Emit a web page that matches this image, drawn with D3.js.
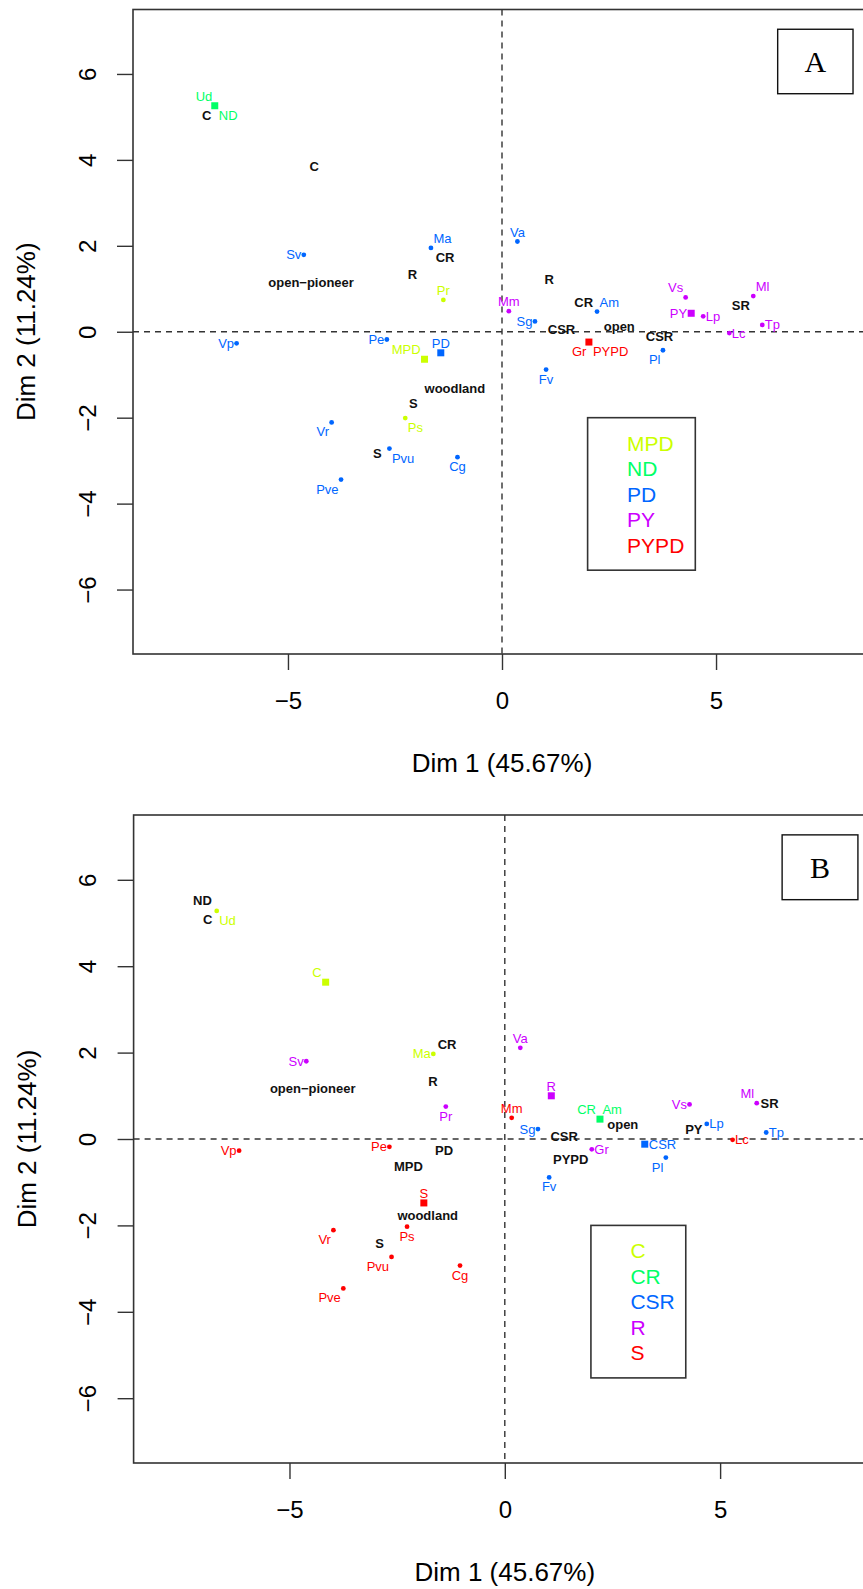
<!DOCTYPE html>
<html>
<head>
<meta charset="utf-8">
<script src="https://cdn.jsdelivr.net/npm/d3@7"></script>
<style>
body { margin: 0; background: #fff; }
svg { display: block; font-family: "Liberation Sans", Arial, sans-serif; }
</style>
</head>
<body>
<svg id="chart"></svg>
<script>

// R rainbow(5), one colour per group in legend order
var rainbow5 = ["#CCFF00", "#00FF66", "#0066FF", "#CC00FF", "#FF0000"]

var groupsA = ["MPD", "ND", "PD", "PY", "PYPD"]
var groupsB = ["C", "CR", "CSR", "R", "S"]

var xTicks = [-5, 0, 5]
var yTicks = [-6, -4, -2, 0, 2, 4, 6]
var xTitle = "Dim 1 (45.67%)"
var yTitle = "Dim 2 (11.24%)"

// species: name, dim1, dim2, group, side of the label
var speciesA = [
  ["Ud", -6.71, 5.26, "ND", "nw"],
  ["Sv", -4.63, 1.79, "PD", "w"],
  ["Ma", -1.66, 1.95, "PD", "ne"],
  ["Pr", -1.37, 0.74, "MPD", "n"],
  ["Vp", -6.20, -0.27, "PD", "w"],
  ["Pe", -2.69, -0.18, "PD", "w"],
  ["Ps", -2.26, -2.01, "MPD", "se"],
  ["Vr", -3.98, -2.11, "PD", "sw"],
  ["Pvu", -2.63, -2.72, "PD", "se"],
  ["Cg", -1.04, -2.92, "PD", "s"],
  ["Pve", -3.76, -3.44, "PD", "sw"],
  ["Va", 0.36, 2.10, "PD", "n"],
  ["Mm", 0.16, 0.48, "PY", "n"],
  ["Sg", 0.77, 0.24, "PD", "w"],
  ["Am", 2.22, 0.47, "PD", "ne"],
  ["Gr", 2.03, -0.24, "PYPD", "sw"],
  ["Fv", 1.03, -0.88, "PD", "s"],
  ["Pl", 3.76, -0.43, "PD", "sw"],
  ["Vs", 4.29, 0.80, "PY", "nw"],
  ["Lp", 4.70, 0.36, "PY", "e"],
  ["Ml", 5.87, 0.83, "PY", "ne"],
  ["Lc", 5.31, -0.03, "PY", "e"],
  ["Tp", 6.08, 0.16, "PY", "e"]
]

// group centroids (squares)
var centroidsA = [
  ["ND", -6.71, 5.26, "se"],
  ["MPD", -1.81, -0.64, "nw"],
  ["PD", -1.43, -0.49, "n"],
  ["PYPD", 2.03, -0.24, "se"],
  ["PY", 4.42, 0.43, "w"]
]

// supplementary categories, black text only
var suppA = [
  ["C", -6.90, 5.04],
  ["C", -4.39, 3.84],
  ["open\u2212pioneer", -4.46, 1.15],
  ["R", -2.09, 1.33],
  ["CR", -1.33, 1.72],
  ["woodland", -1.10, -1.31],
  ["S", -2.07, -1.67],
  ["S", -2.91, -2.84],
  ["R", 1.10, 1.22],
  ["CR", 1.91, 0.68],
  ["CSR", 1.39, 0.05],
  ["open", 2.74, 0.12],
  ["CSR", 3.68, -0.11],
  ["SR", 5.58, 0.60]
]

var speciesB = [
  ["Ud", -6.69, 5.28, "C", "se"],
  ["Sv", -4.61, 1.80, "R", "w"],
  ["Ma", -1.66, 1.97, "C", "w"],
  ["Pr", -1.37, 0.75, "R", "s"],
  ["Vp", -6.17, -0.27, "S", "w"],
  ["Pe", -2.68, -0.18, "S", "w"],
  ["Ps", -2.27, -2.03, "S", "s"],
  ["Vr", -3.98, -2.11, "S", "sw"],
  ["Pvu", -2.63, -2.73, "S", "sw"],
  ["Cg", -1.04, -2.93, "S", "s"],
  ["Pve", -3.75, -3.46, "S", "sw"],
  ["Va", 0.36, 2.11, "R", "n"],
  ["Mm", 0.16, 0.49, "S", "n"],
  ["Sg", 0.77, 0.23, "CSR", "w"],
  ["Am", 2.21, 0.46, "CR", "ne"],
  ["Gr", 2.02, -0.24, "R", "e"],
  ["Fv", 1.03, -0.89, "CSR", "s"],
  ["Pl", 3.74, -0.43, "CSR", "sw"],
  ["Vs", 4.29, 0.80, "R", "w"],
  ["Lp", 4.69, 0.35, "CSR", "e"],
  ["Ml", 5.85, 0.83, "R", "nw"],
  ["Lc", 5.29, -0.02, "S", "e"],
  ["Tp", 6.07, 0.15, "CSR", "e"]
]

var centroidsB = [
  ["C", -4.16, 3.63, "nw"],
  ["S", -1.88, -1.48, "n"],
  ["R", 1.08, 1.00, "n"],
  ["CR", 2.21, 0.46, "nw"],
  ["CSR", 3.25, -0.12, "e"]
]

var suppB = [
  ["ND", -7.02, 5.53],
  ["C", -6.90, 5.07],
  ["open\u2212pioneer", -4.46, 1.16],
  ["CR", -1.34, 2.19],
  ["R", -1.67, 1.34],
  ["PD", -1.41, -0.27],
  ["MPD", -2.24, -0.64],
  ["woodland", -1.79, -1.76],
  ["S", -2.91, -2.41],
  ["CSR", 1.38, 0.05],
  ["open", 2.74, 0.34],
  ["PYPD", 1.53, -0.47],
  ["PY", 4.39, 0.21],
  ["SR", 6.15, 0.82]
]

var svg = d3.select("#chart")
            .attr("width", 863)
            .attr("height", 1589)

var ink = "#333"

// label offset from a marker, by compass side
function place(side, half) {
  var o = {dx: 0, dy: 0, anchor: "middle"}
  if (side.indexOf("e") >= 0) { o.dx = half; o.anchor = "start" }
  if (side.indexOf("w") >= 0) { o.dx = -half; o.anchor = "end" }
  if (side.indexOf("n") >= 0) o.dy = -9.5
  if (side.indexOf("s") >= 0) o.dy = 9.5
  return o
}

function drawPanel(p) {

  var xScale = d3.scaleLinear()
                 .domain([-8.62, 8.62])
                 .range([p.left, p.left + p.width])

  var yScale = d3.scaleLinear()
                 .domain([-7.5, 7.5])
                 .range([p.top + p.height, p.top])

  var colour = d3.scaleOrdinal().domain(p.groups).range(rainbow5)

  var g = svg.append("g")
  var bottom = p.top + p.height

  // frame
  g.append("rect")
   .attr("x", p.left).attr("y", p.top)
   .attr("width", p.width).attr("height", p.height)
   .attr("fill", "none").attr("stroke", ink).attr("stroke-width", 1.6)

  // zero lines
  g.append("line")
   .attr("x1", xScale(0)).attr("x2", xScale(0))
   .attr("y1", p.top).attr("y2", bottom)
   .attr("stroke", ink).attr("stroke-width", 1.4).attr("stroke-dasharray", "6,5")
  g.append("line")
   .attr("x1", p.left).attr("x2", p.left + p.width)
   .attr("y1", yScale(0)).attr("y2", yScale(0))
   .attr("stroke", ink).attr("stroke-width", 1.4).attr("stroke-dasharray", "6,5")

  var xAxisgen = d3.axisBottom(xScale).tickValues(xTicks).tickSize(16).tickSizeOuter(0)
  var yAxisgen = d3.axisLeft(yScale).tickValues(yTicks).tickSize(16).tickSizeOuter(0)

  var xAxis = g.append("g")
               .attr("transform", `translate(0,${bottom})`)
               .call(xAxisgen)
  xAxis.select(".domain").remove()
  xAxis.selectAll("line").attr("stroke", ink).attr("stroke-width", 1.4)
  xAxis.selectAll("text")
       .attr("y", 46).attr("dy", null)
       .attr("dominant-baseline", "central")
       .attr("fill", "#000")
       .style("font-size", "24px")
       .style("font-family", "Liberation Sans, Arial, sans-serif")

  var yAxis = g.append("g")
               .attr("transform", `translate(${p.left},0)`)
               .call(yAxisgen)
  yAxis.select(".domain").remove()
  yAxis.selectAll("line").attr("stroke", ink).attr("stroke-width", 1.4)
  yAxis.selectAll("text")
       .attr("x", null).attr("dy", null)
       .attr("text-anchor", "middle")
       .attr("dominant-baseline", "central")
       .attr("transform", "translate(-46,0) rotate(-90)")
       .attr("fill", "#000")
       .style("font-size", "24px")
       .style("font-family", "Liberation Sans, Arial, sans-serif")

  // axis titles
  g.append("text")
   .attr("x", xScale(0)).attr("y", bottom + 109)
   .attr("text-anchor", "middle").attr("dominant-baseline", "central")
   .style("font-size", "26px")
   .text(xTitle)
  g.append("text")
   .attr("transform", `translate(${p.left - 107},${yScale(0)}) rotate(-90)`)
   .attr("text-anchor", "middle").attr("dominant-baseline", "central")
   .style("font-size", "26px")
   .text(yTitle)

  // species dots and labels
  g.selectAll(".dot")
   .data(p.species)
   .enter()
   .append("circle")
   .attr("cx", d => xScale(d[1]))
   .attr("cy", d => yScale(d[2]))
   .attr("r", 2.4)
   .attr("fill", d => colour(d[3]))

  g.selectAll(".sp")
   .data(p.species)
   .enter()
   .append("text")
   .attr("x", d => xScale(d[1]) + place(d[4], 2.5).dx)
   .attr("y", d => yScale(d[2]) + place(d[4], 2.5).dy)
   .attr("text-anchor", d => place(d[4], 2.5).anchor)
   .attr("dominant-baseline", "central")
   .attr("fill", d => colour(d[3]))
   .style("font-size", "13px")
   .text(d => d[0])

  // centroids
  g.selectAll(".sq")
   .data(p.centroids)
   .enter()
   .append("rect")
   .attr("x", d => xScale(d[1]) - 3.5)
   .attr("y", d => yScale(d[2]) - 3.5)
   .attr("width", 7).attr("height", 7)
   .attr("fill", d => colour(d[0]))

  g.selectAll(".cl")
   .data(p.centroids)
   .enter()
   .append("text")
   .attr("x", d => xScale(d[1]) + place(d[3], 4).dx)
   .attr("y", d => yScale(d[2]) + place(d[3], 4).dy)
   .attr("text-anchor", d => place(d[3], 4).anchor)
   .attr("dominant-baseline", "central")
   .attr("fill", d => colour(d[0]))
   .style("font-size", "13px")
   .text(d => d[0])

  // supplementary black labels
  g.selectAll(".sup")
   .data(p.supp)
   .enter()
   .append("text")
   .attr("x", d => xScale(d[1]))
   .attr("y", d => yScale(d[2]))
   .attr("text-anchor", "middle")
   .attr("dominant-baseline", "central")
   .attr("fill", "#111")
   .style("font-size", "13px")
   .style("font-weight", "bold")
   .text(d => d[0])

  // legend at (2, -2)
  var lx = xScale(2), ly = yScale(-2)
  var box = g.append("rect")
             .attr("x", lx).attr("y", ly)
             .attr("height", p.groups.length * 25.5 + 25)
             .attr("fill", "#fff").attr("stroke", ink).attr("stroke-width", 1.6)
  var items = g.selectAll(".leg")
               .data(p.groups)
               .enter()
               .append("text")
               .attr("x", lx + 39.5)
               .attr("y", (d, i) => ly + 25.5 + i * 25.5)
               .attr("dominant-baseline", "central")
               .attr("fill", d => colour(d))
               .style("font-size", "21px")
               .text(d => d)
  var widest = d3.max(items.nodes(), n => n.getComputedTextLength())
  box.attr("width", 39.5 + widest + 11)

  // panel letter
  g.append("rect")
   .attr("x", xScale(6.44)).attr("y", yScale(7.04))
   .attr("width", xScale(8.2) - xScale(6.44))
   .attr("height", yScale(5.54) - yScale(7.04))
   .attr("fill", "#fff").attr("stroke", "#111").attr("stroke-width", 1.4)
  g.append("text")
   .attr("x", (xScale(6.44) + xScale(8.2)) / 2)
   .attr("y", (yScale(7.04) + yScale(5.54)) / 2)
   .attr("text-anchor", "middle").attr("dominant-baseline", "central")
   .style("font-family", "Liberation Serif, Times New Roman, serif")
   .style("font-size", "30px")
   .text(p.letter)
}

drawPanel({left: 133, top: 9.5, width: 738, height: 644.5, letter: "A",
           groups: groupsA, species: speciesA, centroids: centroidsA, supp: suppA})

drawPanel({left: 133.6, top: 815, width: 742.4, height: 648, letter: "B",
           groups: groupsB, species: speciesB, centroids: centroidsB, supp: suppB})

</script>
</body>
</html>
